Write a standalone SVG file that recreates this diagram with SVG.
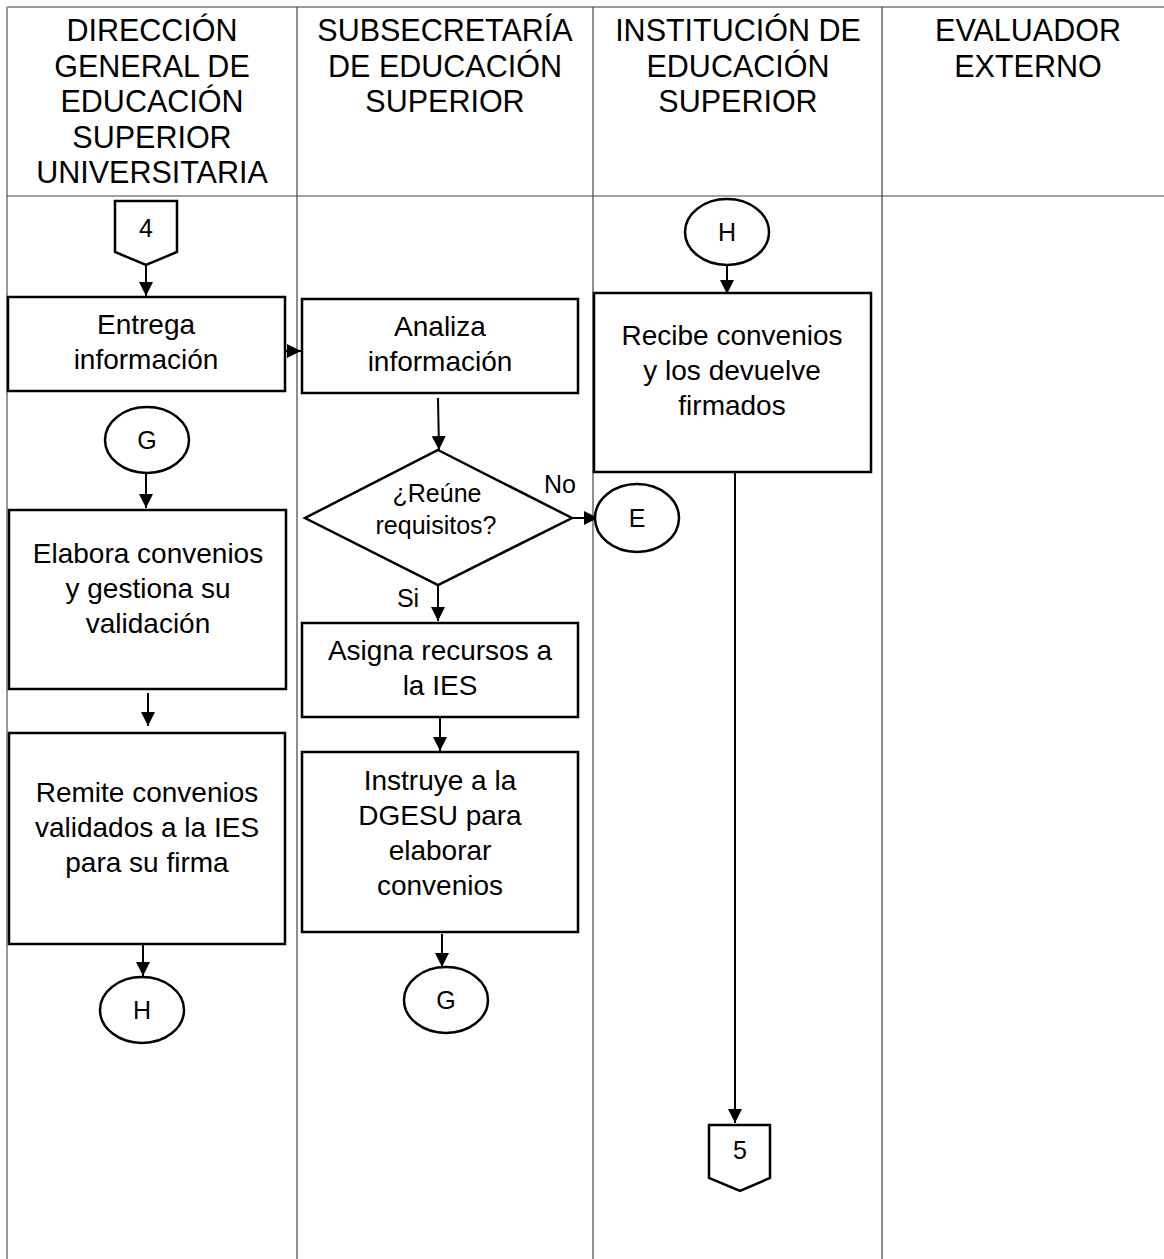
<svg xmlns="http://www.w3.org/2000/svg" width="1164" height="1259" viewBox="0 0 1164 1259">
<defs>
<marker id="ah" markerUnits="userSpaceOnUse" markerWidth="14" markerHeight="14" viewBox="0 0 14 14" refX="14" refY="7" orient="auto">
<path d="M0,0 L14,7 L0,14 Z" fill="#000"/>
</marker>
</defs>
<style>
.grid{stroke:#444;stroke-width:1.2;fill:none}
.outer{stroke:#999;stroke-width:2;fill:none}
.box{fill:#fff;stroke:#000;stroke-width:2.5}
.hd{font-family:"Liberation Sans",Arial,sans-serif;font-size:30.5px;text-anchor:middle;fill:#000}
.t{font-family:"Liberation Sans",Arial,sans-serif;font-size:28px;text-anchor:middle;fill:#000}
.s{font-family:"Liberation Sans",Arial,sans-serif;font-size:25px;text-anchor:middle;fill:#000}
.c{fill:none;stroke:#000;stroke-width:2}
</style>
<rect width="1164" height="1259" fill="#fff"/>
<g id="lanes">
<line class="outer" x1="7" y1="7" x2="1164" y2="7"/>
<line class="outer" x1="7" y1="7" x2="7" y2="1259"/>
<line class="grid" x1="297" y1="7" x2="297" y2="1259"/>
<line class="grid" x1="593" y1="7" x2="593" y2="1259"/>
<line class="grid" x1="882" y1="7" x2="882" y2="1259"/>
<line class="grid" x1="7" y1="196" x2="1164" y2="196"/>
<text class="hd" x="152" y="41">DIRECCIÓN</text>
<text class="hd" x="152" y="77">GENERAL DE</text>
<text class="hd" x="152" y="112">EDUCACIÓN</text>
<text class="hd" x="152" y="148">SUPERIOR</text>
<text class="hd" x="152" y="183">UNIVERSITARIA</text>
<text class="hd" x="445" y="41">SUBSECRETARÍA</text>
<text class="hd" x="445" y="77">DE EDUCACIÓN</text>
<text class="hd" x="445" y="112">SUPERIOR</text>
<text class="hd" x="738" y="41">INSTITUCIÓN DE</text>
<text class="hd" x="738" y="77">EDUCACIÓN</text>
<text class="hd" x="738" y="112">SUPERIOR</text>
<text class="hd" x="1028" y="41">EVALUADOR</text>
<text class="hd" x="1028" y="77">EXTERNO</text>
</g>
<g id="connectors">
<line class="c" x1="146" y1="265" x2="146" y2="296" marker-end="url(#ah)"/>
<line class="c" x1="286" y1="351" x2="301" y2="351" marker-end="url(#ah)"/>
<line class="c" x1="438" y1="398" x2="439" y2="450" marker-end="url(#ah)"/>
<line class="c" x1="572" y1="518" x2="598" y2="518" marker-end="url(#ah)"/>
<line class="c" x1="438" y1="586" x2="438" y2="621" marker-end="url(#ah)"/>
<line class="c" x1="440" y1="718" x2="440" y2="751" marker-end="url(#ah)"/>
<line class="c" x1="442" y1="934" x2="442" y2="967" marker-end="url(#ah)"/>
<line class="c" x1="146" y1="473" x2="146" y2="508" marker-end="url(#ah)"/>
<line class="c" x1="148" y1="693" x2="148" y2="726" marker-end="url(#ah)"/>
<line class="c" x1="143" y1="944" x2="143" y2="976" marker-end="url(#ah)"/>
<line class="c" x1="727" y1="265" x2="727" y2="294" marker-end="url(#ah)"/>
<line class="c" x1="735" y1="472" x2="735" y2="1123" marker-end="url(#ah)"/>
<text class="s" x="560" y="493">No</text>
<text class="s" x="408" y="607">Si</text>
</g>
<g id="n4">
<path class="box" d="M115,201 L177,201 L177,252 L146,265 L115,252 Z"/>
<text class="s" x="146" y="237">4</text>
</g>
<g id="entrega">
<rect class="box" x="8" y="297" width="277" height="94"/>
<text class="t" x="146" y="334">Entrega</text>
<text class="t" x="146" y="369">información</text>
</g>
<g id="analiza">
<rect class="box" x="302" y="299" width="276" height="94"/>
<text class="t" x="440" y="336">Analiza</text>
<text class="t" x="440" y="371">información</text>
</g>
<g id="decision">
<path class="box" d="M438,450 L572,518 L438,585 L305,518 Z"/>
<text class="s" x="437" y="502">¿Reúne</text>
<text class="s" x="436" y="534">requisitos?</text>
</g>
<g id="e">
<ellipse class="box" cx="637" cy="518" rx="42" ry="34"/>
<text class="s" x="637" y="527">E</text>
</g>
<g id="asigna">
<rect class="box" x="302" y="623" width="276" height="94"/>
<text class="t" x="440" y="660">Asigna recursos a</text>
<text class="t" x="440" y="695">la IES</text>
</g>
<g id="instruye">
<rect class="box" x="302" y="752" width="276" height="180"/>
<text class="t" x="440" y="790">Instruye a la</text>
<text class="t" x="440" y="825">DGESU para</text>
<text class="t" x="440" y="860">elaborar</text>
<text class="t" x="440" y="895">convenios</text>
</g>
<g id="g2">
<ellipse class="box" cx="446" cy="1000" rx="42" ry="33"/>
<text class="s" x="446" y="1009">G</text>
</g>
<g id="g1">
<ellipse class="box" cx="147" cy="440" rx="42" ry="33"/>
<text class="s" x="147" y="449">G</text>
</g>
<g id="elabora">
<rect class="box" x="9" y="510" width="277" height="179"/>
<text class="t" x="148" y="563">Elabora convenios</text>
<text class="t" x="148" y="598">y gestiona su</text>
<text class="t" x="148" y="633">validación</text>
</g>
<g id="remite">
<rect class="box" x="9" y="733" width="276" height="211"/>
<text class="t" x="147" y="802">Remite convenios</text>
<text class="t" x="147" y="837">validados a la IES</text>
<text class="t" x="147" y="872">para su firma</text>
</g>
<g id="h1">
<ellipse class="box" cx="142" cy="1010" rx="42" ry="33"/>
<text class="s" x="142" y="1019">H</text>
</g>
<g id="h2">
<ellipse class="box" cx="727" cy="232" rx="42" ry="33"/>
<text class="s" x="727" y="241">H</text>
</g>
<g id="recibe">
<rect class="box" x="594" y="293" width="277" height="179"/>
<text class="t" x="732" y="345">Recibe convenios</text>
<text class="t" x="732" y="380">y los devuelve</text>
<text class="t" x="732" y="415">firmados</text>
</g>
<g id="n5">
<path class="box" d="M709,1125 L770,1125 L770,1178 L740,1191 L709,1178 Z"/>
<text class="s" x="740" y="1159">5</text>
</g>
</svg>
